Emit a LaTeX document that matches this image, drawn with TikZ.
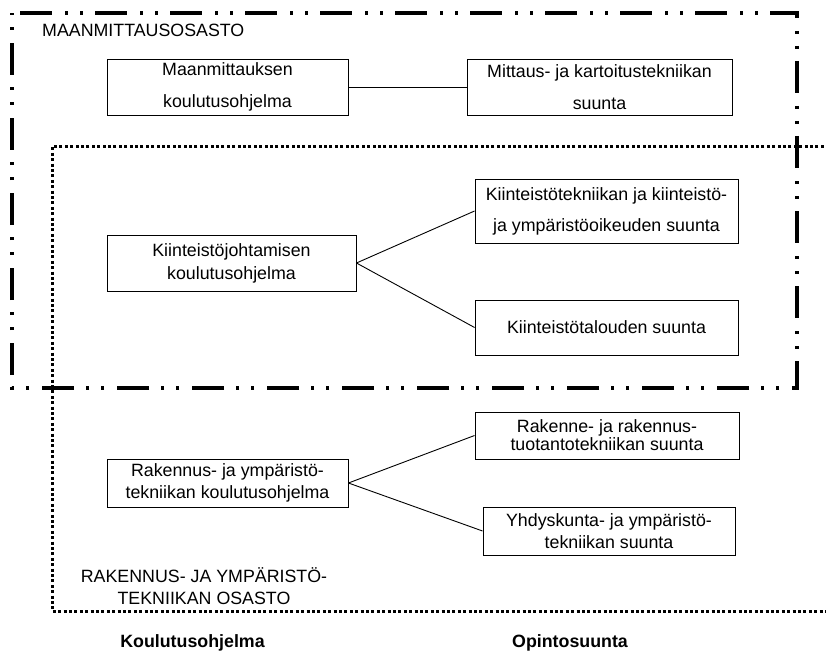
\documentclass[tikz,border=0pt]{standalone}
\usepackage{fontspec}
\setmainfont{Liberation Sans}
\newcommand{\txt}[1]{\fontsize{17.8}{#1}\selectfont}
\begin{document}
\begin{tikzpicture}[x=1pt,y=-1pt,
  unitbox/.style={draw, line width=0.9pt, inner sep=0pt, align=center},
  link/.style={line width=0.9pt},
  deptA/.style={line width=3.3pt, line cap=butt, line join=miter,
    dash pattern=on 32pt off 13pt on 3pt off 12pt on 3pt off 12pt, dash phase=67pt},
  deptB/.style={line width=3pt, line cap=butt, line join=miter,
    dash pattern=on 3pt off 2.4pt},
  caption/.style={inner sep=0pt, font=\txt{22}}]
\useasboundingbox (0,0) rectangle (826,655);

% department frames
\draw[deptA] (12,13) -- (797,13) -- (797,388) -- (12,388) -- cycle;
\draw[deptB] (840,147) -- (52,147) -- (52,611) -- (840,611);

% department names
\node[caption, anchor=base west] (mdept) at (42,37) {MAANMITTAUSOSASTO};
\node[caption, align=center, anchor=base] (rdept) at (204,604)
  {RAKENNUS- JA YMPÄRISTÖ-\\TEKNIIKAN OSASTO};

% degree programmes
\node[unitbox, minimum width=241pt, minimum height=56pt, font=\txt{32}] (pa) at (227.5,87)
  {\raisebox{-2.5pt}{Maanmittauksen}\\\raisebox{-2.5pt}{koulutusohjelma}};
\node[unitbox, minimum width=249pt, minimum height=56pt, font=\txt{23}] (pc) at (231.5,263)
  {Kiinteistöjohtamisen\\koulutusohjelma};
\node[unitbox, minimum width=241pt, minimum height=48pt, font=\txt{22}] (pf) at (227.5,483)
  {Rakennus- ja ympäristö-\\tekniikan koulutusohjelma};

% study tracks
\node[unitbox, minimum width=265pt, minimum height=56pt, font=\txt{32}] (sb) at (599.5,87)
  {\raisebox{-2.5pt}{Mittaus- ja kartoitustekniikan}\\\raisebox{-2.5pt}{suunta}};
\node[unitbox, minimum width=263pt, minimum height=64pt, font=\txt{31}] (sd) at (606.5,211)
  {Kiinteistötekniikan ja kiinteistö-\\ja ympäristöoikeuden suunta};
\node[unitbox, minimum width=263pt, minimum height=55pt, font=\txt{22}] (se) at (606.5,327.5)
  {Kiinteistötalouden suunta};
\node[unitbox, minimum width=264pt, minimum height=47pt, font=\txt{18}] (sg) at (607,435.5)
  {Rakenne- ja rakennus-\\tuotantotekniikan suunta};
\node[unitbox, minimum width=252pt, minimum height=48pt, font=\txt{22}] (sh) at (609,531)
  {Yhdyskunta- ja ympäristö-\\tekniikan suunta};

% links
\draw[link] (pa.east) -- (sb.west);
\draw[link] (pc.east) -- (sd.west);
\draw[link] (pc.east) -- (se.west);
\draw[link] (pf.east) -- (sg.west);
\draw[link] (pf.east) -- (sh.west);

% column headings
\node[caption, font=\txt{22}\bfseries, anchor=base] (hprog) at (192.5,647) {Koulutusohjelma};
\node[caption, font=\txt{22}\bfseries, anchor=base] (htrack) at (570,647) {Opintosuunta};
\end{tikzpicture}
\end{document}
